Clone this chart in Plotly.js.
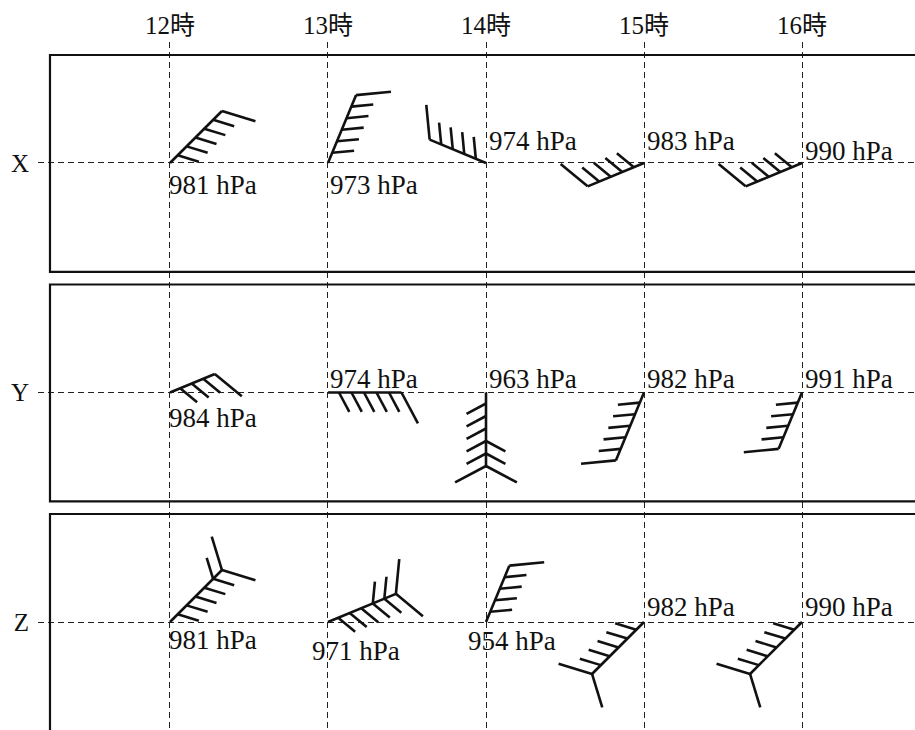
<!DOCTYPE html>
<html>
<head>
<meta charset="utf-8">
<script src="https://cdn.plot.ly/plotly-3.0.1.min.js"></script>
<style>html,body{margin:0;padding:0;background:#fff;}#chart{width:915px;height:730px;}</style>
</head>
<body>
<div id="chart"></div>
<script>
// ---- data ----
const HOURS = [12, 13, 14, 15, 16];
const HOUR_LABELS = ['12時', '13時', '14時', '15時', '16時'];
const STATIONS = ['X', 'Y', 'Z'];

// wind direction (16-point, direction the wind blows from), wind force (Beaufort), pressure (hPa)
const X_DIR = ['NE', 'NNE', 'WNW', 'WSW', 'WSW'];
const X_FORCE = [6, 6, 5, 5, 5];
const X_HPA = [981, 973, 974, 983, 990];

const Y_DIR = ['ENE', 'E', 'S', 'SSW', 'SSW'];
const Y_FORCE = [4, 6, 9, 6, 5];
const Y_HPA = [984, 974, 963, 982, 991];

const Z_DIR = ['NE', 'ENE', 'NNE', 'SW', 'SW'];
const Z_FORCE = [8, 9, 5, 7, 7];
const Z_HPA = [981, 971, 954, 982, 990];

const COMPASS = ['N','NNE','NE','ENE','E','ESE','SE','SSE','S','SSW','SW','WSW','W','WNW','NW','NNW'];

// ---- layout / style constants (not data) ----
const W = 915, H = 730;
const M = {l: 38, t: 42, r: 0, b: 0};
const X_RANGE = [11.1646, 16.7152];
const Y_RANGE = [2.4706, -0.5272];
const PX_X = (W - M.l - M.r) / (X_RANGE[1] - X_RANGE[0]);
const PX_Y = (H - M.t - M.b) / (Y_RANGE[0] - Y_RANGE[1]);
const SHAFT_BASE = 11, SPACING = 12.5, SHORT = 22, LONG = 35, FEATHER_ANG = 62;
const FONT = 'Liberation Serif, DejaVu Serif, Noto Sans CJK JP, serif';

// label placement per station row [dx, dy] in px (layout only)
const LABEL_POS = [
  [[-3, 22], [0, 22], [1, -22], [1, -22], [1, -12]],
  [[-3, 26], [0, -13], [1, -13], [1, -13], [1, -13]],
  [[-3, 18], [-18, 29], [-20, 19], [1, -15], [1, -15]]
];

const DIRS = [X_DIR, Y_DIR, Z_DIR];
const FORCES = [X_FORCE, Y_FORCE, Z_FORCE];
const HPAS = [X_HPA, Y_HPA, Z_HPA];

const bx = [], by = [];
function seg(h, row, p0, p1) {
  bx.push(h + p0[0] / PX_X, h + p1[0] / PX_X, null);
  by.push(row - p0[1] / PX_Y, row - p1[1] / PX_Y, null);
}
function barb(h, row, dir, force) {
  const bearing = COMPASS.indexOf(dir) * 22.5;
  const th = (90 - bearing) * Math.PI / 180;
  const r = Math.min(force, 6), l = Math.max(force - 6, 0);
  const L = SHAFT_BASE + SPACING * (r - 1);
  const u = [Math.cos(th), Math.sin(th)];
  seg(h, row, [0, 0], [L * u[0], L * u[1]]);
  const fa = FEATHER_ANG * Math.PI / 180;
  const side = (n, sign) => {
    const a = th + sign * fa;
    for (let k = 0; k < n; k++) {
      const pos = L - k * SPACING;
      const len = k === 0 ? LONG : SHORT;
      const p0 = [pos * u[0], pos * u[1]];
      seg(h, row, p0, [p0[0] + len * Math.cos(a), p0[1] + len * Math.sin(a)]);
    }
  };
  side(r, -1);
  side(l, 1);
}

const annotations = [];
STATIONS.forEach((s, i) => {
  HOURS.forEach((h, j) => {
    barb(h, i, DIRS[i][j], FORCES[i][j]);
    annotations.push({
      x: h, y: i, xref: 'x', yref: 'y',
      text: HPAS[i][j] + ' hPa', showarrow: false,
      xanchor: 'left', yanchor: 'middle',
      xshift: LABEL_POS[i][j][0], yshift: -LABEL_POS[i][j][1],
      font: {family: FONT, size: 27, color: '#111'}
    });
  });
});

// panel boxes (layout)
const shapes = STATIONS.map((s, i) => ({
  type: 'rect', xref: 'x', yref: 'y',
  x0: 12 - 120 / PX_X, x1: 18,
  y0: i - 0.4706, y1: i === 2 ? 3 : i + 0.4745,
  line: {color: '#111', width: 2.2}, fillcolor: 'rgba(0,0,0,0)', layer: 'above'
}));

const trace = {
  x: bx, y: by, type: 'scatter', mode: 'lines',
  line: {color: '#111', width: 2.6}, hoverinfo: 'skip', showlegend: false,
  cliponaxis: false
};

const layout = {
  width: W, height: H,
  margin: M,
  paper_bgcolor: '#fff', plot_bgcolor: '#fff',
  showlegend: false,
  xaxis: {
    range: X_RANGE, side: 'top',
    tickmode: 'array', tickvals: HOURS, ticktext: HOUR_LABELS,
    ticks: '', ticklabelstandoff: 2,
    showgrid: true, gridcolor: '#222', gridwidth: 1, griddash: '6px,4px',
    zeroline: false, showline: false,
    tickfont: {family: FONT, size: 25, color: '#111'}
  },
  yaxis: {
    range: Y_RANGE,
    tickmode: 'array', tickvals: STATIONS.map((s, i) => i), ticktext: STATIONS,
    ticks: '', ticklabelstandoff: 8,
    showgrid: true, gridcolor: '#222', gridwidth: 1, griddash: '6px,4px',
    zeroline: false, showline: false,
    tickfont: {family: FONT, size: 25, color: '#111'}
  },
  shapes: shapes,
  annotations: annotations
};

Plotly.newPlot('chart', [trace], layout, {staticPlot: true, displayModeBar: false});
</script>
</body>
</html>
